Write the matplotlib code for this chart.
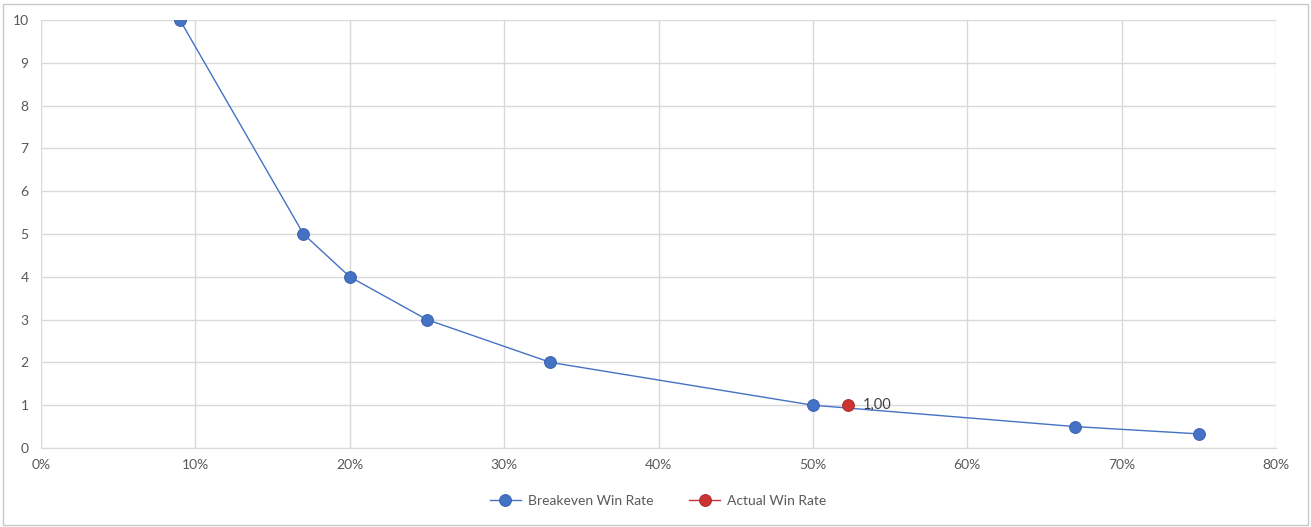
import matplotlib.pyplot as plt
from matplotlib.ticker import FuncFormatter, MultipleLocator
from matplotlib.patches import Rectangle

plt.rcParams['font.family'] = ['Lato', 'DejaVu Sans']

# breakeven win rate vs reward/risk ratio
win_rate = [0.09, 0.17, 0.20, 0.25, 0.33, 0.50, 0.67, 0.75]
ratio = [10, 5, 4, 3, 2, 1, 0.5, 0.33]

actual_rate = [0.523]
actual_ratio = [1.0]
actual_label = '1,00'

blue = '#4472c4'
red = '#cc3333'
grid_c = '#d9d9d9'
txt_c = '#595959'

fig = plt.figure(figsize=(13.11, 5.27), dpi=100)
fig.patches.append(Rectangle((0.002, 0.004), 0.996, 0.988, transform=fig.transFigure,
                             fill=False, edgecolor='#c8c8c8', linewidth=1))
ax = fig.add_axes([41 / 1311, 1 - 448 / 527, 1235 / 1311, 428 / 527])

ax.plot(win_rate, ratio, color=blue, linewidth=1, marker='o', markersize=8.5,
        markerfacecolor=blue, markeredgecolor='#3a62ad', markeredgewidth=0.7,
        label='Breakeven Win Rate', zorder=3)
ax.plot(actual_rate, actual_ratio, color=red, linewidth=1, marker='o', markersize=8.5,
        markerfacecolor=red, markeredgecolor='#a82828', markeredgewidth=0.7,
        label='Actual Win Rate', zorder=4)
for x, y in zip(actual_rate, actual_ratio):
    ax.annotate(actual_label, (x, y), xytext=(10, 0), textcoords='offset points',
                va='center', ha='left', fontsize=10.5, color='#404040')

ax.set_xlim(0, 0.8)
ax.set_ylim(0, 10)
ax.xaxis.set_major_locator(MultipleLocator(0.1))
ax.yaxis.set_major_locator(MultipleLocator(1))
ax.xaxis.set_major_formatter(FuncFormatter(lambda v, p: f'{v * 100:.0f}%'))
ax.grid(True, color=grid_c, linewidth=1)
ax.set_axisbelow(True)
for s in ['top', 'right', 'left']:
    ax.spines[s].set_visible(False)
ax.spines['bottom'].set_color(grid_c)
ax.tick_params(length=0, labelsize=10, labelcolor=txt_c)
ax.tick_params(axis='x', pad=8)
ax.tick_params(axis='y', pad=9)

leg = fig.legend(loc='center', bbox_to_anchor=(0.502, 1 - 501 / 527), ncol=2,
                 frameon=False, fontsize=10, handlelength=2.2, handletextpad=0.5,
                 columnspacing=2.6)
for t in leg.get_texts():
    t.set_color(txt_c)

fig.savefig('out.png', dpi=100)
